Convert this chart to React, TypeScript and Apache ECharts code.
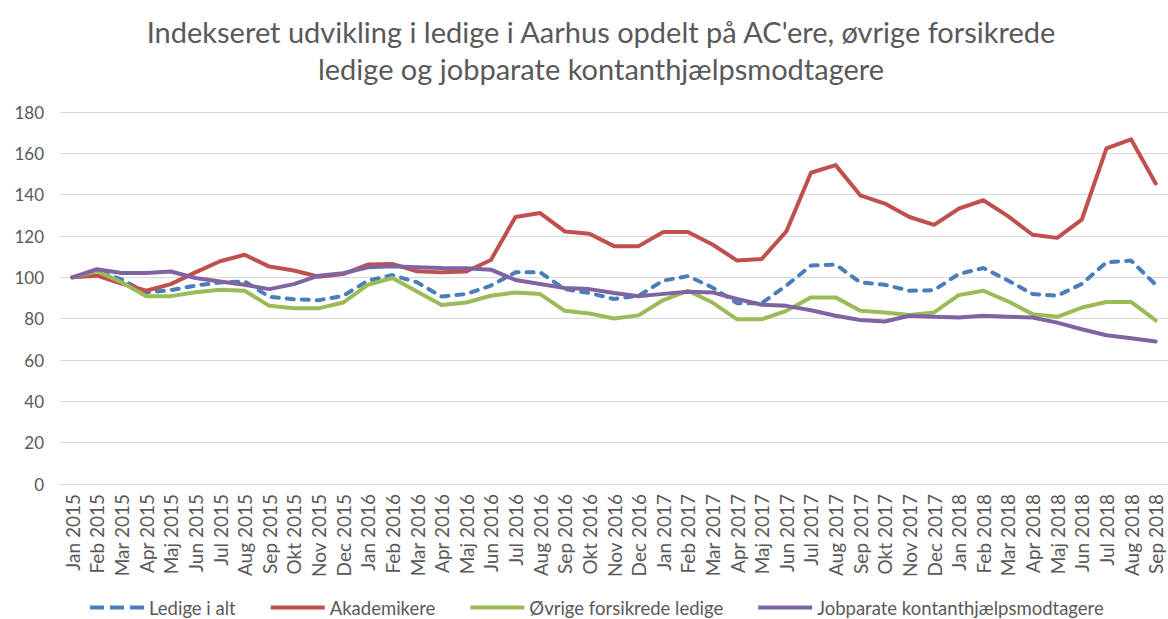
import React, { useEffect, useRef } from "react";
import * as echarts from "echarts";

const months = ["Jan", "Feb", "Mar", "Apr", "Maj", "Jun", "Jul", "Aug", "Sep", "Okt", "Nov", "Dec"];
const categories: string[] = [];
for (let y = 2015; y <= 2018; y++) {
  for (let m = 0; m < 12; m++) {
    if (y === 2018 && m > 8) break;
    categories.push(`${months[m]} ${y}`);
  }
}

const ledigeIAlt = [
  100, 103, 99, 92.7, 93.8, 96, 97.5, 98, 90.6, 89.4, 88.9, 91,
  98.4, 101.1, 97.6, 90.7, 91.9, 96, 102.4, 102.4, 94.3, 92.4, 89.5, 91.1,
  98.4, 100.6, 95.1, 87.5, 87.5, 96, 105.7, 106.2, 97.6, 96.4, 93.5, 93.8,
  101.6, 104.5, 98.5, 91.9, 91.1, 96.8, 107.3, 108.1, 96.4,
];
const akademikere = [
  100, 100.8, 97, 93.5, 96.7, 102.4, 107.8, 110.9, 105.2, 103.3, 100.3, 101.6,
  106.2, 106.5, 102.9, 102.4, 102.8, 108.4, 129.2, 131.1, 122.2, 121.1, 115.1, 115.1,
  121.9, 121.9, 115.9, 108.1, 108.9, 122.2, 150.6, 154.3, 139.7, 135.7, 129.2, 125.4,
  133.2, 137.3, 129.6, 120.6, 119.1, 127.9, 162.4, 166.8, 145.4,
];
const oevrige = [
  100, 103, 97.6, 90.9, 90.9, 92.8, 94, 93.5, 86.2, 85, 85, 87.8,
  96.4, 99.7, 93.2, 86.6, 87.8, 91.1, 92.7, 91.9, 83.8, 82.5, 80.1, 81.6,
  89, 93.5, 87.8, 79.7, 79.7, 83.8, 90.3, 90.3, 83.8, 83, 81.8, 83,
  91.4, 93.5, 88.4, 82.2, 80.9, 85.4, 88.1, 88.1, 79.2,
];
const jobparate = [
  100, 103.9, 102.1, 102.1, 102.8, 99.7, 98, 96.4, 94.3, 96.7, 100.8, 102,
  104.9, 105.4, 104.9, 104.5, 104.4, 103.7, 98.7, 96.8, 94.8, 94.3, 92.4, 90.8,
  92, 93, 92.7, 89.5, 86.7, 86.2, 84.1, 81.4, 79.4, 78.6, 81.4, 80.9,
  80.6, 81.4, 80.9, 80.6, 78.1, 74.9, 72, 70.5, 68.9,
];

const FONT = "Lato";
const TXT = "#595959";

export default function App() {
  const ref = useRef<HTMLDivElement>(null);
  useEffect(() => {
    if (!ref.current) return;
    const chart = echarts.init(ref.current, undefined, { renderer: "svg" });
    const lineSeries = (name: string, data: number[], color: string, dashed = false) => ({
      name,
      type: "line",
      data,
      symbol: "none",
      smooth: false,
      lineStyle: dashed
        ? { color, width: 4, type: [7, 8], cap: "round" }
        : { color, width: 4, cap: "round", join: "round" },
      itemStyle: { color },
    });
    chart.setOption({
      animation: false,
      backgroundColor: "#ffffff",
      textStyle: { fontFamily: FONT },
      title: {
        text: "Indekseret udvikling i ledige i Aarhus opdelt på AC'ere, øvrige forsikrede\nledige og jobparate kontanthjælpsmodtagere",
        left: 596,
        textAlign: "center",
        top: 8,
        textStyle: { fontFamily: FONT, fontSize: 29, fontWeight: "normal", color: TXT, lineHeight: 37 },
      },
      legend: {
        top: 593,
        left: 85,
        itemWidth: 54,
        itemHeight: 4,
        itemGap: 35,
        icon: "rect",
        textStyle: { fontFamily: FONT, fontSize: 18.5, color: TXT },
        data: [
          { name: "Ledige i alt", icon: "path://M0,0h14v4h-14zM20,0h14v4h-14zM40,0h14v4h-14z" },
          { name: "Akademikere" },
          { name: "Øvrige forsikrede ledige" },
          { name: "Jobparate kontanthjælpsmodtagere" },
        ],
      },
      grid: { left: 60, top: 112, width: 1110, height: 372, containLabel: false },
      xAxis: {
        type: "category",
        data: categories,
        boundaryGap: true,
        axisLine: { lineStyle: { color: "#d9d9d9", width: 1 } },
        axisTick: { show: false },
        axisLabel: { rotate: 90, interval: 0, fontFamily: FONT, fontSize: 19, color: TXT, margin: 10 },
      },
      yAxis: {
        type: "value",
        min: 0,
        max: 180,
        interval: 20,
        axisLine: { show: false },
        axisTick: { show: false },
        splitLine: { lineStyle: { color: "#d9d9d9", width: 1 } },
        axisLabel: { fontFamily: FONT, fontSize: 17, color: TXT, margin: 16 },
      },
      series: [
        lineSeries("Ledige i alt", ledigeIAlt, "#4a7ebb", true),
        lineSeries("Akademikere", akademikere, "#c0504d"),
        lineSeries("Øvrige forsikrede ledige", oevrige, "#9bbb59"),
        lineSeries("Jobparate kontanthjælpsmodtagere", jobparate, "#8064a2"),
      ],
    });
    return () => chart.dispose();
  }, []);
  return <div ref={ref} style={{ position: "fixed", left: 0, top: 0, width: 1168, height: 619 }} />;
}
